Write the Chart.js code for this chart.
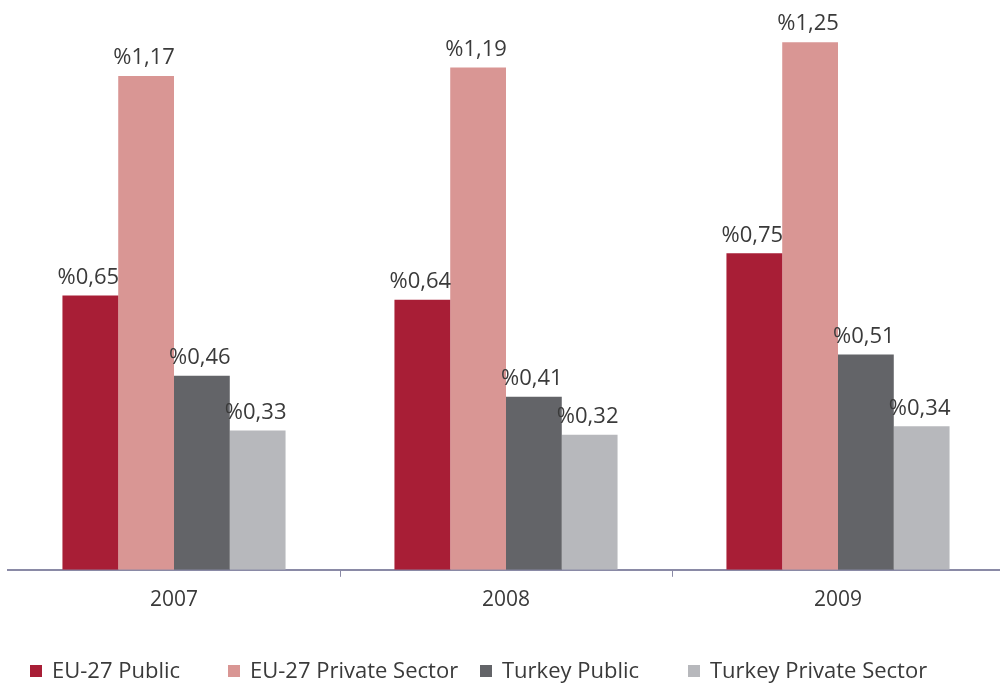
<!DOCTYPE html>
<html>
<head>
<meta charset="utf-8">
<script src="https://cdn.jsdelivr.net/npm/chart.js@4/dist/chart.umd.min.js"></script>
<style>
  body { margin: 0; background: #fff; font-family: "Open Sans", sans-serif; }
  #wrap { position: relative; width: 1000px; height: 684px; overflow: hidden; }
  #legend { position: absolute; top: 654px; left: 0; width: 1000px; height: 30px; }
  .item { position: absolute; top: 0; font-size: 22px; color: #3a3a3a; white-space: nowrap; line-height: 30px; }
  .box { display: inline-block; width: 12px; height: 12px; margin-right: 10px; vertical-align: 1px; }
</style>
</head>
<body>
<div id="wrap">
  <canvas id="chart" width="1004" height="684"></canvas>
  <div id="legend"></div>
</div>
<script>
const years = ['2007', '2008', '2009']
const euPublic = [0.65, 0.64, 0.75]
const euPrivate = [1.17, 1.19, 1.25]
const trPublic = [0.46, 0.41, 0.51]
const trPrivate = [0.33, 0.32, 0.34]

const seriesNames = ['EU-27 Public', 'EU-27 Private Sector', 'Turkey Public', 'Turkey Private Sector']
const colors = ['#a81e36', '#d99694', '#636468', '#b7b8bc']
const legendX = [30, 228, 480, 688]

const fmt = (v) => '%' + v.toFixed(2).replace('.', ',')

// draws the value above every bar
const valueLabels = {
    id: 'valueLabels',
    afterDatasetsDraw (chart) {
        const ctx = chart.ctx
        ctx.save()
        ctx.font = '22px "Open Sans", sans-serif'
        ctx.fillStyle = '#3a3a3a'
        ctx.textAlign = 'center'
        ctx.textBaseline = 'bottom'
        chart.data.datasets.forEach((ds, i) => {
            chart.getDatasetMeta(i).data.forEach((bar, j) => {
                ctx.fillText(fmt(ds.data[j]), bar.x - 2, bar.y - 7)
            })
        })
        ctx.restore()
    }
}

const data = [euPublic, euPrivate, trPublic, trPrivate]

new Chart(document.getElementById('chart'), {
    type: 'bar',
    data: {
        labels: years,
        datasets: data.map((d, i) => ({
            label: seriesNames[i],
            data: d,
            backgroundColor: colors[i],
            borderWidth: 0,
            categoryPercentage: 0.672,
            barPercentage: 1
        }))
    },
    options: {
        responsive: false,
        animation: false,
        layout: { padding: { left: 8, right: 0, top: 0, bottom: 60 } },
        plugins: { legend: { display: false }, tooltip: { enabled: false } },
        scales: {
            x: {
                grid: {
                    offset: true,
                    drawOnChartArea: false,
                    tickLength: 7,
                    lineWidth: 1,
                    color: (c) => (c.index === 0 || c.index === years.length) ? 'rgba(0,0,0,0)' : '#8a8aa6'
                },
                border: { color: '#8a8aa6', width: 2 },
                ticks: { color: '#3a3a3a', font: { family: '"Open Sans", sans-serif', size: 21 }, padding: 11 }
            },
            y: {
                display: false,
                min: 0,
                max: 1.35
            }
        }
    },
    plugins: [valueLabels]
})

const legend = document.getElementById('legend')
seriesNames.forEach((name, i) => {
    const el = document.createElement('div')
    el.className = 'item'
    el.style.left = legendX[i] + 'px'
    el.innerHTML = '<span class="box" style="background:' + colors[i] + '"></span>' + name
    legend.appendChild(el)
})
</script>
</body>
</html>
